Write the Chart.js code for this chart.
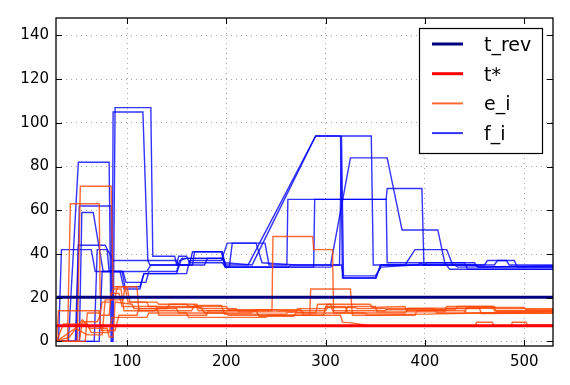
<!DOCTYPE html>
<html>
<head>
<meta charset="utf-8">
<script src="https://cdn.jsdelivr.net/npm/chart.js@4.4.1/dist/chart.umd.min.js"></script>
<style>
  html, body { margin: 0; padding: 0; background: #fff; }
</style>
</head>
<body>
<canvas id="chart" width="570" height="385"></canvas>
<script>
// Axis setup
const xMin = 28.5, xMax = 529;
const yMin = -2.1, yMax = 148;
const xTicks = [100, 200, 300, 400, 500];
const yTicks = [0, 20, 40, 60, 80, 100, 120, 140];

// Reference levels
const tRevValue = 20.2;
const tStarValue = 7.2;

// e_i traces (x, value)
const e1 = [[29,0],[50,0],[53,71],[84,71],[86,25],[100,25],[103,18],[130,18],[132,17],[160,17],[162,16],[200,16],[202,14.5],[250,14.5],[252,14],[300,14],[302,15.5],[330,15.5],[332,15],[360,15],[362,14.5],[420,14.5],[422,16],[470,16],[472,15],[529,15]];
const e2 = [[29,0],[40,0],[43,63],[72,63],[73,20],[88,20],[90,25],[98,25],[101,18],[120,18],[122,16],[170,16],[172,14],[246,14],[247,48],[287,48],[288,42],[307,42],[308,13],[340,13],[342,12],[400,12.5],[460,13],[529,13]];
const e3 = [[29,0],[31,14],[72,14],[74,5],[88,5],[92,12],[110,12],[112,15],[150,15],[152,13],[200,13],[202,12],[284,12],[285,24],[325,24],[327,12],[390,12],[392,14],[440,14],[442,13],[529,13.5]];
const e4 = [[29,0],[36,8],[60,8],[64,4],[82,4],[85,11],[120,11],[122,13],[160,13],[162,11],[240,11],[242,12],[315,12],[317,8.8],[326,8.5],[345,7.2],[451,7.2],[452,8.8],[468,8.8],[469,7.2],[487,7.2],[488,8.8],[502,8.8],[503,7.5],[529,7.5]];
const e5 = [[29,0],[42,2],[55,10],[62,6],[80,6],[82,2],[86,2],[88,18],[105,17],[107,15],[140,15],[143,17],[170,17],[173,15],[210,15],[213,13.5],[270,13.5],[272,15],[300,15],[302,17],[345,17],[347,15.5],[380,16],[382,14],[430,14.5],[433,16],[468,16],[470,14],[529,14]];
const e6 = [[29,0],[48,6],[60,3],[75,3],[78,19],[96,19],[98,25],[110,25],[112,14],[165,14],[168,16.5],[195,16.5],[198,12.5],[260,12.5],[262,13.5],[290,13],[292,17],[305,17],[307,14],[360,14],[362,15],[410,15],[412,13],[440,13],[442,15.5],[500,15.5],[502,14.5],[529,14.5]];
const e7 = [[29,0],[52,0],[55,9],[70,9],[73,12],[82,12],[84,22],[92,22],[95,16],[130,16],[132,12],[180,12],[182,14],[230,14],[233,11.5],[268,11.5],[270,13],[320,13],[322,16],[350,16],[352,13.5],[420,13.5],[422,15],[455,15],[457,12.8],[529,13]];
const e8 = [[29,0],[58,0],[60,13],[73,13],[75,18],[83,18],[86,24],[94,24],[97,14],[128,14],[131,15.5],[175,15.5],[178,13],[225,13],[228,14.5],[275,14.5],[278,12],[298,12],[300,16],[320,16],[322,13],[380,13],[383,15.2],[470,15.2],[472,13.8],[529,13.8]];

// f_i traces (x, value)
const f1 = [[29,0],[31,0],[34,42],[64,42],[68,32],[96,32],[99,27],[119,27],[122,32],[150,32],[153,37],[160,38],[196,38],[199,34],[262,34],[265,35],[305,35],[325,84],[362,84],[377,51],[413,51],[420,36],[450,36],[453,34],[529,34]];
const f2 = [[29,0],[41,0],[51,82],[82,82],[84,0],[86,0],[88,107],[124,107],[126,39],[148,39],[150,35],[163,35],[166,41],[196,41],[199,35],[222,35],[290,94],[315,94],[317,29],[351,29],[355,35],[430,35],[433,34],[529,34.5]];
const f3 = [[29,0],[49,0],[52,62],[84,62],[85,0],[85.5,0],[86,105],[116,105],[121,37],[150,37],[152,35],[178,35],[181,38],[196,38],[199,36],[226,35],[290,94],[346,94],[348,35],[400,35],[402,36],[440,36],[443,33],[529,33]];
const f4 = [[29,0],[52,0],[54.5,59],[66,59],[76,32],[93,32],[97,24],[113,24],[117,31],[160,31],[163,37],[195,37],[201,45],[239,45],[243,35],[261,35],[262,65],[361,65],[362,36],[396,36],[398,35],[470,35],[473,37],[490,37],[493,34],[529,34]];
const f5 = [[29,0],[48,0],[51,44],[78,44],[86,37],[121,37],[123,35],[150,35],[152,39],[160,39],[163,36],[196,36],[199,34],[288,34],[289,65],[361,65],[362,70],[397,70],[399,35],[450,35],[455,34],[529,34.5]];
const f6 = [[29,0],[72,0],[75,32],[95,32],[98,25],[113,25],[117,31],[150,31],[155,38],[197,38],[200,34],[305,34],[308,35],[316,35],[318,29],[350,29],[356,35],[380,35],[390,42],[422,42],[428,35],[460,35],[463,37],[482,37],[485,35],[529,35]];
const f7 = [[29,0],[67,0],[70,42],[80,42],[82,32],[120,32],[124,35],[166,35],[168,41],[195,41],[199,34],[203,34],[206,45],[230,45],[236,36],[270,35],[314,35],[316,94],[318,30],[350,30],[356,34],[393,35],[396,36],[420,36],[425,33],[529,33]];

const eSeries = [e1, e2, e3, e4, e5, e6, e7, e8];
const fSeries = [f1, f2, f3, f4, f5, f6, f7];

const eColor = 'rgba(255, 69, 0, 0.8)';
const fColor = 'rgba(0, 0, 255, 0.8)';

function toPoints(pairs) {
    return pairs.map(([x, y]) => ({x: x, y: y}));
}

const datasets = [
    {label: 't_rev', legend: true, data: toPoints([[29, tRevValue], [529, tRevValue]]), borderColor: '#000080', borderWidth: 3},
    {label: 't*', legend: true, data: toPoints([[29, tStarValue], [529, tStarValue]]), borderColor: '#ff0000', borderWidth: 3}
];
eSeries.forEach((s, i) => datasets.push({
    label: 'e_i', legend: i === 0, data: toPoints(s), borderColor: eColor, borderWidth: 1.4
}));
fSeries.forEach((s, i) => datasets.push({
    label: 'f_i', legend: i === 0, data: toPoints(s), borderColor: fColor, borderWidth: 1.4
}));

// Frame, inward ticks and the boxed legend, drawn like the classic style
const framePlugin = {
    id: 'frame',
    afterDraw(chart) {
        const {ctx, chartArea: a, scales: {x, y}} = chart;
        ctx.save();
        ctx.strokeStyle = '#000';
        ctx.lineWidth = 1.3;
        ctx.strokeRect(a.left, a.top, a.right - a.left, a.bottom - a.top);

        ctx.lineWidth = 1;
        ctx.beginPath();
        xTicks.forEach(v => {
            const px = Math.round(x.getPixelForValue(v)) + 0.5;
            ctx.moveTo(px, a.bottom); ctx.lineTo(px, a.bottom - 6);
            ctx.moveTo(px, a.top); ctx.lineTo(px, a.top + 6);
        });
        yTicks.forEach(v => {
            const py = Math.round(y.getPixelForValue(v)) + 0.5;
            ctx.moveTo(a.left, py); ctx.lineTo(a.left + 6, py);
            ctx.moveTo(a.right, py); ctx.lineTo(a.right - 6, py);
        });
        ctx.stroke();

        // legend box
        const boxW = 123, boxH = 125;
        const bx = a.right - 11 - boxW, by = a.top + 10;
        ctx.fillStyle = '#fff';
        ctx.fillRect(bx, by, boxW, boxH);
        ctx.lineWidth = 1.2;
        ctx.strokeRect(bx + 0.5, by + 0.5, boxW, boxH);

        const items = chart.data.datasets.filter(d => d.legend);
        ctx.font = '19px "DejaVu Sans"';
        ctx.textBaseline = 'alphabetic';
        items.forEach((d, i) => {
            const ly = by + 16 + i * 29.7;
            ctx.strokeStyle = d.borderColor;
            ctx.lineWidth = d.borderWidth === 3 ? 3 : 2;
            ctx.beginPath();
            ctx.moveTo(bx + 13, ly);
            ctx.lineTo(bx + 44, ly);
            ctx.stroke();
            ctx.fillStyle = '#000';
            ctx.fillText(d.label, bx + 65, ly + 7);
        });
        ctx.restore();
    }
};

const tickFont = {family: 'DejaVu Sans', size: 15};

new Chart(document.getElementById('chart').getContext('2d'), {
    type: 'line',
    data: {datasets: datasets},
    options: {
        responsive: false,
        animation: false,
        events: [],
        elements: {
            point: {radius: 0},
            line: {tension: 0, fill: false}
        },
        layout: {padding: {left: 0, right: 17, top: 18, bottom: 0}},
        plugins: {
            legend: {display: false},
            tooltip: {enabled: false}
        },
        scales: {
            x: {
                type: 'linear',
                min: xMin,
                max: xMax,
                afterBuildTicks: scale => { scale.ticks = xTicks.map(v => ({value: v})); },
                afterFit: scale => { scale.height = 39; },
                grid: {color: 'rgba(0,0,0,0.35)', lineWidth: 1, drawTicks: false},
                border: {display: false, dash: [1, 4]},
                ticks: {font: tickFont, color: '#000', padding: 7, maxRotation: 0}
            },
            y: {
                type: 'linear',
                min: yMin,
                max: yMax,
                afterBuildTicks: scale => { scale.ticks = yTicks.map(v => ({value: v})); },
                afterFit: scale => { scale.width = 56; },
                grid: {color: 'rgba(0,0,0,0.35)', lineWidth: 1, drawTicks: false},
                border: {display: false, dash: [1, 4]},
                ticks: {font: tickFont, color: '#000', padding: 7}
            }
        }
    },
    plugins: [framePlugin]
});
</script>
</body>
</html>
